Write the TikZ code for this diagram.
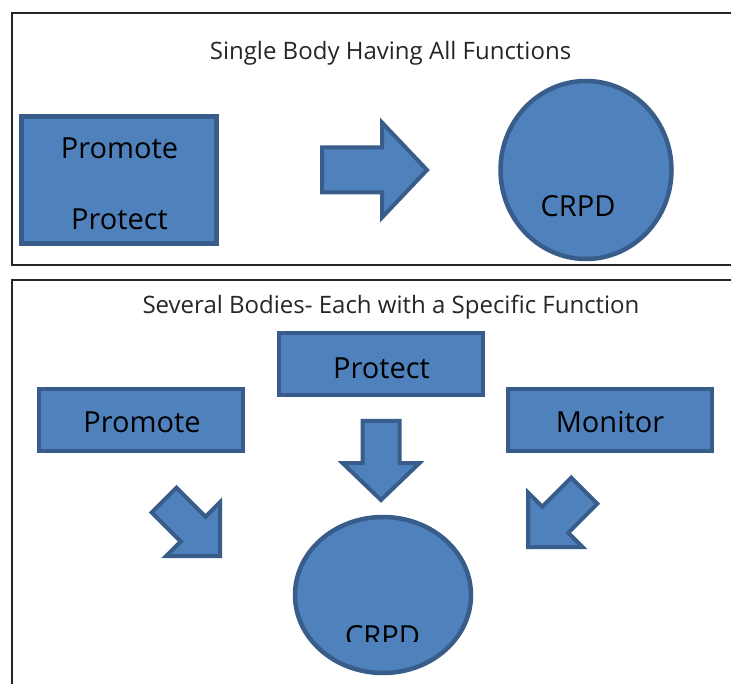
\documentclass[tikz,border=0pt]{standalone}
\usepackage{fontspec}
\setmainfont{Open Sans}
\usetikzlibrary{shapes.geometric}

\definecolor{boxfill}{HTML}{4F81BD}
\definecolor{boxline}{HTML}{385D8A}
\definecolor{frameline}{HTML}{262626}

\tikzset{
  panel/.style={draw=frameline, line width=2pt},
  box/.style={draw=boxline, fill=boxfill, line width=4.5pt, inner sep=0pt},
  blob/.style={box, ellipse},
  arrowfill/.style={draw=boxline, fill=boxfill, line width=4pt},
  heading/.style={font=\fontsize{24}{28}\selectfont, text=black!85, anchor=base, inner sep=0pt},
  bodytext/.style={font=\fontsize{29}{33}\selectfont, anchor=base, inner sep=0pt}
}

\begin{document}
\begin{tikzpicture}[x=1pt, y=-1pt]
        \useasboundingbox (0,0) rectangle (731,684);
        \clip (0,0) rectangle (731,684);
        
        \draw[panel] (11.5,12.7) rectangle (745,265);
        \draw[panel] (11.5,280) rectangle (745,700);
        
        \node[heading] (single) at (390.5,60) {Single Body Having All Functions};
        \node[heading] (several) at (391,314) {Several Bodies- Each with a Specific Function};
        
        \node[box, minimum width=195pt, minimum height=127pt] (both) at (119,180) {};
        \node[bodytext] (bothpromote) at (119.5,159) {Promote};
        \node[bodytext] (bothprotect) at (119.5,230) {Protect};
        
        \filldraw[arrowfill, shift={(427,170)}] (0,0) -- (-45,47.5) -- (-45,22.5) -- (-105,22.5) -- (-105,-22.5) -- (-45,-22.5) -- (-45,-47.5) -- cycle;
        
        \node[blob, minimum width=171pt, minimum height=178pt] (single crpd) at (586,170) {};
        \node[bodytext] (single crpd text) at (578,217) {CRPD};
        
        \node[box, minimum width=204pt, minimum height=62pt] (protect) at (381,364) {};
        \node[box, minimum width=204pt, minimum height=62pt] (promote) at (141,420) {};
        \node[box, minimum width=204pt, minimum height=62pt] (monitor) at (610,420) {};
        \node[bodytext] (protect text) at (381.5,378.3) {Protect};
        \node[bodytext] (promote text) at (142,432.3) {Promote};
        \node[bodytext] (monitor text) at (610,432.3) {Monitor};
        
        \filldraw[arrowfill, shift={(381,500)}, rotate=-90] (0,0) -- (-37,38.5) -- (-37,18.5) -- (-79,18.5) -- (-79,-18.5) -- (-37,-18.5) -- (-37,-38.5) -- cycle;
        \filldraw[arrowfill, shift={(220,556)}, rotate=-45] (0,0) -- (-38,38) -- (-38,17.5) -- (-79,17.5) -- (-79,-17.5) -- (-38,-17.5) -- (-38,-38) -- cycle;
        \filldraw[arrowfill, shift={(528,547)}, rotate=-135] (0,0) -- (-38.5,38.5) -- (-38.5,18.5) -- (-79.5,18.5) -- (-79.5,-18.5) -- (-38.5,-18.5) -- (-38.5,-38.5) -- cycle;
        
        \node[blob, minimum width=176pt, minimum height=156pt] (several crpd) at (383,595) {};
        \begin{scope}
          \clip (330,600) rectangle (440,641.7);
          \node[bodytext] (several crpd text) at (382.5,646.7) {CRPD};
        \end{scope}
        
    \end{tikzpicture}
\end{document}
